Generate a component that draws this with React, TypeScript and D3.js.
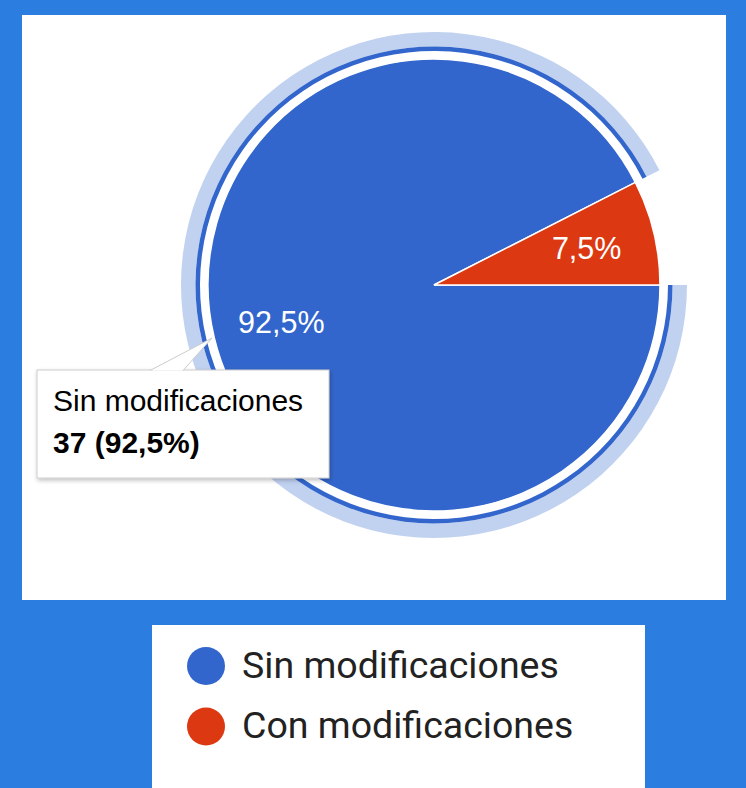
import React from "react";
import * as d3 from "d3";

const categories = ["Sin modificaciones", "Con modificaciones"];
const counts = [37, 3];
const percentLabels = ["92,5%", "7,5%"];
const colors = ["#3366cc", "#dc3912"];
const tooltipTitle = "Sin modificaciones";
const tooltipValue = "37 (92,5%)";

export default function App() {
  const W = 746, H = 788;
  const cx = 434, cy = 285, r = 226;
  const pie = d3.pie<number>().sort(null).startAngle(Math.PI / 2).endAngle(Math.PI / 2 + 2 * Math.PI);
  const arcs = pie(counts);
  const arc = d3.arc<any>().innerRadius(0).outerRadius(r);
  const labelArc = d3.arc<any>().innerRadius(157).outerRadius(157);
  const ringDark = d3.arc<any>().innerRadius(234).outerRadius(238.5);
  const ringLight = d3.arc<any>().innerRadius(238.5).outerRadius(253);
  const hovered = arcs[0];
  const font = "'Liberation Sans', Arial, sans-serif";

  return (
    <svg width={W} height={H} style={{ position: "absolute", left: 0, top: 0, display: "block" }}>
      <defs>
        <filter id="shadow" x="-10%" y="-10%" width="130%" height="140%">
          <feDropShadow dx="1" dy="2" stdDeviation="2" floodColor="#000" floodOpacity="0.25" />
        </filter>
      </defs>
      <rect x={0} y={0} width={W} height={H} fill="#2b7ee0" />
      <rect x={22} y={15} width={704} height={585} fill="#ffffff" />
      <g transform={`translate(${cx},${cy})`}>
        <path d={ringLight(hovered) || ""} fill={colors[0]} fillOpacity={0.3} />
        <path d={ringDark(hovered) || ""} fill={colors[0]} />
        {arcs.map((a, i) => (
          <path key={categories[i]} d={arc(a) || ""} fill={colors[i]} stroke="#ffffff" strokeWidth={1.5} />
        ))}
        {arcs.map((a, i) => {
          const [lx, ly] = labelArc.centroid(a);
          return (
            <text key={"l" + i} x={lx} y={ly} dy="0.36em" textAnchor="middle" fill="#ffffff"
              fontFamily={font} fontSize={30.5}>{percentLabels[i]}</text>
          );
        })}
      </g>
      {/* tooltip */}
      <g>
        <rect x={37} y={370} width={292} height={108} fill="#ffffff" stroke="#cccccc" strokeWidth={1} filter="url(#shadow)" />
        <path d="M150,370.5 L212,338 L183,370.5" fill="#ffffff" stroke="#cccccc" strokeWidth={1} />
        <text x={53} y={411} fontFamily={font} fontSize={30} fill="#000000">{tooltipTitle}</text>
        <text x={53} y={453} fontFamily={font} fontSize={30} fontWeight="bold" fill="#000000">{tooltipValue}</text>
      </g>
      {/* legend */}
      <rect x={152} y={625} width={493} height={163} fill="#ffffff" />
      {categories.map((c, i) => (
        <g key={"lg" + i}>
          <circle cx={206} cy={666 + i * 60.5} r={19} fill={colors[i]} />
          <text x={242} y={678 + i * 60} fontFamily="Roboto, sans-serif" fontSize={37.5} fill="#222222">{c}</text>
        </g>
      ))}
    </svg>
  );
}
